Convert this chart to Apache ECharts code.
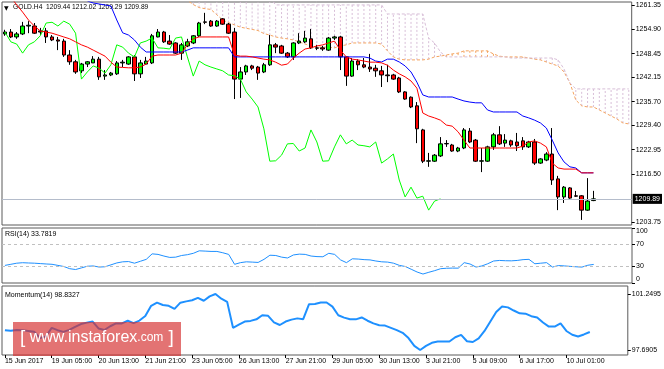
<!DOCTYPE html>
<html><head><meta charset="utf-8">
<script src="https://cdn.jsdelivr.net/npm/echarts@6/dist/echarts.min.js"></script>
<style>html,body{margin:0;padding:0;background:#fff}#c{width:664px;height:369px}</style>
</head><body><div id="c"></div>
<script>
// ---------- data ----------
const N_CATS = 107; // 101 bars + 6 future slots (cloud shifted forward)
const categories = Array.from({length: N_CATS}, (_, i) => String(i));
const tickEvery = 8;
const tickLabels = ['15 Jun 2017','19 Jun 05:00','20 Jun 13:00','21 Jun 21:00','23 Jun 05:00','26 Jun 13:00',
  '27 Jun 21:00','29 Jun 05:00','30 Jun 13:00','3 Jul 21:00','5 Jul 09:00','6 Jul 17:00','10 Jul 01:00'];

const open = [1253.7,1254.2,1252.9,1253.7,1255.8,1255.8,1254.5,1254.5,1252.9,1252.1,
 1251.8,1248.1,1246.3,1243.9,1245.7,1246.0,1247.0,1242.5,1242.8,1243.1,
 1246.0,1245.7,1247.6,1243.1,1245.7,1246.0,1252.9,1254.2,1251.8,1251.3,
 1248.6,1250.5,1251.3,1253.2,1256.9,1257.1,1255.8,1257.7,1256.3,1254.2,
 1241.7,1243.6,1245.2,1244.9,1243.6,1245.5,1250.8,1250.5,1248.6,1247.6,
 1251.3,1251.6,1252.4,1250.0,1250.0,1249.4,1252.6,1252.9,1247.6,1242.5,
 1246.5,1245.5,1244.9,1244.6,1243.9,1242.8,1242.8,1242.0,1238.3,1236.9,
 1234.6,1228.2,1219.9,1219.9,1221.3,1224.5,1224.2,1222.6,1223.4,1227.9,
 1225.5,1219.9,1219.9,1223.7,1226.9,1224.7,1225.3,1225.0,1225.3,1223.7,
 1225.0,1219.4,1220.2,1221.8,1215.2,1210.4,1212.8,1210.7,1210.7,1206.9,1209.44];
const high = [1254.8,1255.0,1254.2,1256.9,1257.1,1256.6,1255.3,1255.3,1253.4,1252.9,
 1252.4,1249.4,1246.8,1246.0,1246.5,1247.8,1247.6,1244.1,1243.6,1246.5,
 1246.8,1247.8,1248.1,1246.8,1247.6,1253.7,1255.0,1254.5,1253.4,1251.5,
 1251.3,1252.4,1253.4,1256.9,1259.3,1257.4,1257.4,1257.9,1256.6,1255.3,
 1244.9,1245.5,1245.5,1245.2,1246.0,1253.4,1251.3,1250.8,1248.9,1251.5,
 1253.9,1254.5,1255.0,1250.8,1250.5,1252.9,1253.2,1253.2,1247.8,1247.3,
 1247.0,1247.3,1248.4,1245.5,1245.2,1245.5,1243.1,1242.3,1238.5,1237.1,
 1235.6,1228.5,1222.1,1221.8,1226.3,1225.5,1224.5,1223.7,1228.7,1228.7,
 1225.8,1223.4,1224.0,1227.4,1229.2,1227.1,1225.6,1227.4,1226.3,1225.3,
 1225.8,1220.7,1222.3,1228.7,1216.0,1213.3,1213.0,1212.0,1210.9,1215.4,1212.02];
const low = [1253.2,1252.6,1252.4,1253.4,1253.9,1253.7,1253.4,1251.3,1251.8,1249.4,
 1247.6,1245.5,1243.1,1243.3,1244.9,1246.0,1241.5,1241.5,1242.5,1242.8,
 1244.9,1245.5,1241.2,1242.0,1245.5,1245.7,1252.8,1251.3,1250.8,1248.4,
 1246.8,1250.2,1251.0,1252.9,1256.3,1255.6,1255.6,1256.1,1253.7,1236.4,
 1236.7,1242.8,1244.1,1241.5,1243.3,1245.2,1248.6,1248.4,1247.3,1246.8,
 1251.0,1251.3,1249.7,1249.4,1249.2,1249.2,1252.1,1244.1,1239.9,1242.3,
 1244.1,1244.6,1243.6,1242.3,1239.6,1240.9,1241.5,1238.0,1236.2,1234.0,
 1224.7,1219.4,1218.4,1219.7,1221.0,1223.7,1222.4,1222.3,1223.1,1224.7,
 1219.7,1217.0,1219.7,1222.9,1224.2,1223.7,1223.7,1222.6,1222.9,1223.4,
 1218.9,1219.2,1219.9,1213.6,1206.9,1208.8,1209.9,1210.4,1204.3,1206.7,1209.29];
const close = [1254.2,1252.9,1253.7,1255.8,1256.0,1253.9,1254.2,1252.9,1252.1,1251.8,
 1248.1,1246.3,1243.6,1245.7,1246.3,1247.0,1242.3,1242.8,1243.3,1246.0,
 1246.2,1247.6,1243.1,1246.0,1246.5,1253.2,1254.2,1251.6,1251.0,1248.6,
 1250.8,1251.6,1253.2,1256.6,1256.8,1255.8,1257.1,1256.3,1253.9,1241.7,
 1243.6,1245.2,1244.6,1243.3,1245.5,1250.8,1250.2,1248.6,1247.6,1251.3,
 1251.8,1252.6,1250.0,1249.9,1249.7,1252.6,1252.9,1247.6,1242.5,1246.5,
 1245.5,1244.9,1244.4,1243.9,1242.8,1242.6,1241.7,1238.3,1236.4,1234.3,
 1228.5,1219.9,1220.0,1221.5,1224.5,1224.6,1222.6,1223.4,1228.2,1225.0,
 1219.9,1220.0,1223.7,1226.9,1224.5,1225.5,1224.2,1224.0,1223.7,1225.0,
 1219.4,1220.5,1221.8,1214.9,1210.4,1213.0,1210.1,1210.6,1206.9,1209.3,1209.89];

// Ichimoku lines
const tenkan = [1265.4,1263.5,1261.4,1259.5,1257.4,1255.8,1254.5,1254.2,1253.9,1253.4,
 1252.9,1252.4,1251.6,1250.8,1250.2,1249.4,1248.6,1247.8,1246.2,1244.9,
 1244.8,1244.7,1244.7,1244.9,1245.7,1247.8,1248.1,1248.1,1248.1,1248.1,
 1248.6,1250.8,1252.4,1252.9,1252.9,1252.9,1252.9,1252.9,1252.9,1248.1,
 1247.8,1247.8,1247.6,1247.3,1247.0,1246.8,1246.2,1245.4,1245.7,1247.3,
 1248.6,1249.7,1250.0,1250.5,1250.8,1251.3,1251.8,1249.4,1247.6,1247.0,
 1246.8,1246.5,1246.2,1246.2,1246.0,1245.4,1244.1,1243.1,1242.3,1241.2,
 1239.3,1232.7,1231.9,1231.4,1230.8,1229.5,1229.2,1227.7,1225.5,1223.4,
 1223.4,1223.4,1223.4,1223.4,1223.4,1223.4,1223.4,1223.4,1223.9,1225.0,
 1225.3,1224.7,1223.7,1219.4,1218.1,1217.8,1217.8,1217.8,1216.8,1216.8,1216.8];
const kijun = [1265.4,1265.4,1265.4,1265.4,1265.4,1265.4,1265.4,1265.4,1265.4,1265.4,
 1265.4,1265.4,1265.4,1265.4,1262.45,1261.92,1261.65,1261.39,1261.12,1257.4,
 1254.0,1253.4,1252.1,1250.2,1248.9,1248.9,1248.9,1248.9,1248.9,1248.9,
 1248.9,1249.4,1250.0,1250.0,1250.0,1250.0,1250.0,1250.0,1250.0,1247.6,
 1247.6,1247.6,1247.6,1247.6,1247.6,1247.6,1247.6,1247.6,1247.6,1247.6,
 1247.6,1247.6,1247.6,1247.6,1247.6,1247.6,1247.6,1247.6,1247.6,1247.6,
 1247.6,1247.6,1247.3,1246.5,1246.25,1247.0,1247.0,1246.25,1245.2,1243.6,
 1240.9,1237.5,1236.95,1236.95,1236.95,1236.95,1236.95,1236.4,1235.9,1235.6,
 1235.4,1235.4,1233.5,1232.97,1232.97,1232.97,1232.97,1232.97,1231.9,1231.4,
 1230.8,1230.05,1228.7,1225.5,1222.1,1219.7,1218.4,1218.1,1216.8,1216.8,1216.8];
const chikou = [1254.2,1251.6,1251.0,1248.6,1250.8,1251.6,1253.2,1256.6,1256.8,1255.8,
 1257.1,1256.3,1253.9,1241.7,1243.6,1245.2,1244.6,1243.3,1245.5,1250.8,
 1250.2,1248.6,1247.6,1251.3,1251.8,1252.6,1250.0,1249.9,1249.7,1252.6,
 1252.9,1247.6,1242.5,1246.5,1245.5,1244.9,1244.4,1243.9,1242.8,1242.6,
 1241.7,1238.3,1236.4,1234.3,1228.5,1219.9,1220.0,1221.5,1224.5,1224.6,
 1222.6,1223.4,1228.2,1225.0,1219.9,1220.0,1223.7,1226.9,1224.5,1225.5,
 1224.2,1224.0,1223.7,1225.0,1219.4,1220.5,1221.8,1214.9,1210.4,1213.0,
 1210.1,1210.6,1206.9,1209.3,1209.89];
const cloudStart = 29;
const spanA = [1264.0,1263.3,1262.6,1261.5,1260.7,1260.4,1260.2,1258.8,1257.4,1256.7,
 1256.1,1255.5,1255.2,1254.9,1254.6,1253.8,1253.4,1252.9,1252.6,1252.4,
 1252.1,1251.6,1251.0,1250.5,1250.2,1250.2,1250.2,1250.0,1250.5,1250.8,
 1251.3,1251.3,1251.3,1251.3,1251.3,1251.0,1249.2,1247.6,1247.0,1246.8,
 1246.8,1246.8,1246.8,1247.0,1247.6,1247.8,1248.1,1248.4,1248.6,1249.2,
 1249.2,1249.2,1249.2,1249.2,1248.4,1247.8,1247.6,1247.6,1247.6,1247.6,
 1247.3,1247.0,1246.8,1246.25,1245.7,1245.2,1243.6,1240.7,1236.15,1234.6,
 1234.3,1234.3,1233.5,1232.7,1231.9,1231.1,1230.05,1229.8];
const spanB = [1263.5,1263.5,1263.5,1263.5,1263.5,1263.5,1263.5,1263.5,1263.5,1263.5,
 1263.5,1263.5,1263.5,1263.5,1263.5,1263.5,1263.5,1261.4,1261.4,1261.4,
 1261.4,1261.4,1261.4,1261.4,1261.4,1261.4,1261.4,1261.4,1261.4,1261.4,
 1261.4,1261.4,1261.4,1261.4,1261.4,1261.4,1259.0,1259.0,1259.0,1259.0,
 1259.0,1259.0,1259.0,1252.6,1251.3,1248.9,1247.6,1247.6,1247.6,1247.6,
 1247.6,1247.6,1247.6,1247.6,1247.6,1247.6,1247.6,1247.3,1247.3,1247.3,
 1247.3,1247.3,1247.3,1247.3,1247.3,1246.8,1244.4,1240.7,1239.1,1239.1,
 1239.1,1239.1,1239.1,1239.1,1239.1,1239.1,1239.1,1239.1];

const rsi = [32,34,36,36.9,36.4,36,35.3,34.6,34,32,
 30,26,24.5,27.5,30.5,31,29,29.5,33,36.5,
 38.5,39,36,39.5,43,53,52,49,46.5,47,
 50,51.5,54,58.5,58,57.4,57.4,55,52,34,
 37,38.5,38,37.4,43,50.5,50,47,45.5,51,
 52.5,52,49,48,47.7,54,52,42,37,44,
 43.5,42.5,42,40,38.5,38,36,32,30,25,
 20,16.3,19.5,22.5,26,26.8,27.1,27,37,34.5,
 29,31,35,40,41,40.5,40.3,41,42.5,43,
 35,36,37,29,31.7,31.1,30.2,29.5,28.9,32.3,33.7819];
const rsiLevels = [70, 30];
const momentum = [98.95,98.92,98.96,98.95,98.90,98.85,98.45,98.55,99.10,98.95,
 98.84,98.97,99.16,99.34,99.43,99.50,99.06,98.96,99.20,99.38,
 99.38,99.55,99.40,99.56,99.85,100.50,100.70,100.55,100.50,100.30,
 100.70,100.78,100.85,101.00,100.82,101.10,101.2495,100.95,100.75,99.10,
 99.30,99.50,99.54,99.64,99.90,99.86,99.45,99.28,99.50,99.62,
 99.70,99.65,100.60,100.62,100.71,100.71,100.45,99.90,99.75,99.64,
 99.64,99.76,99.55,99.38,99.26,99.24,99.10,98.95,98.78,98.45,
 97.95,97.6905,97.95,98.15,98.23,98.23,98.23,98.50,98.65,98.25,
 98.20,98.43,98.90,99.50,100.10,100.45,100.40,100.20,100.02,100.00,
 99.84,99.76,99.44,99.18,99.18,99.38,98.90,98.66,98.55,98.68,98.8327];

const priceTicks = [1261.35,1254.90,1248.45,1242.15,1235.70,1229.40,1222.95,1216.50,1203.75];
const rsiTicks = [0,30,70,100];
const momTicks = [97.6905,101.2495];
const bid = 1209.89;

// ---------- build ----------
const FONT = 'Liberation Sans, Arial, sans-serif';
const candleData = open.map((o, i) => [o, close[i], low[i], high[i]]);
const pad = (arr, start) => Array.from({length: N_CATS}, (_, i) => (i >= start && i - start < arr.length) ? arr[i - start] : null);
const spanAFull = pad(spanA, cloudStart);
const spanBFull = pad(spanB, cloudStart);
const cloudData = spanA.map((a, k) => [cloudStart + k, a, spanB[k]]);
const isTick = (idx) => idx % tickEvery === 0 && idx / tickEvery < tickLabels.length;

const gridBase = {left: 2, width: 630, show: true, borderColor: '#5a5a5a', borderWidth: 1, backgroundColor: 'transparent'};
const grids = [
  Object.assign({top: 2, height: 223}, gridBase),
  Object.assign({top: 228, height: 55}, gridBase),
  Object.assign({top: 286, height: 69}, gridBase)
];

const xAxes = [0, 1, 2].map(g => ({
  type: 'category', gridIndex: g, data: categories, boundaryGap: true,
  axisLine: {show: false}, splitLine: {show: false},
  axisTick: g === 2 ? {show: true, alignWithLabel: true, interval: isTick, length: 3, lineStyle: {color: '#000'}} : {show: false},
  axisLabel: g === 2 ? {show: true, interval: isTick, align: 'left', fontSize: 7, fontFamily: FONT, color: '#000', margin: 3,
    formatter: (v, idx) => tickLabels[Math.round(idx / tickEvery)] || ''} : {show: false}
}));

const yCommon = (ticks, fmt) => ({
  type: 'value', position: 'right', splitLine: {show: false}, axisLine: {show: false},
  axisTick: {show: true, length: 3, customValues: ticks, lineStyle: {color: '#000'}},
  axisLabel: {customValues: ticks, formatter: fmt, fontSize: 7, fontFamily: FONT, color: '#000', margin: 4}
});
const yAxes = [
  Object.assign(yCommon(priceTicks, v => v.toFixed(2)), {gridIndex: 0, min: 1202.95, max: 1262.18}),
  Object.assign(yCommon(rsiTicks, v => String(v)), {gridIndex: 1, min: 0, max: 100}),
  Object.assign(yCommon(momTicks, v => v.toFixed(4)), {gridIndex: 2, min: 97.373, max: 101.758})
];
yAxes[1].axisLabel.verticalAlignMaxLabel = 'top';
yAxes[1].axisLabel.verticalAlignMinLabel = 'bottom';

const lineS = (name, data, color, extra) => Object.assign({
  name, type: 'line', data, xAxisIndex: 0, yAxisIndex: 0, showSymbol: false, symbol: 'none',
  lineStyle: {color, width: 1}, silent: true, z: 4, connectNulls: false, animation: false
}, extra || {});

const option = {
  animation: false,
  backgroundColor: '#fff',
  grid: grids,
  xAxis: xAxes,
  yAxis: yAxes,
  series: [
    {
      type: 'custom', name: 'cloud', xAxisIndex: 0, yAxisIndex: 0, clip: true, silent: true, z: 1,
      data: cloudData, encode: {x: 0, y: [1, 2]},
      renderItem: (params, api) => {
        const i = api.value(0), a = api.value(1), b = api.value(2);
        const p1 = api.coord([i, a]), p2 = api.coord([i, b]);
        return {type: 'line', shape: {x1: p1[0], y1: p1[1], x2: p2[0], y2: p2[1]},
          style: {stroke: b >= a ? '#D8BFD8' : '#F4A460', lineWidth: 1, lineDash: [2, 2]}};
      }
    },
    lineS('Senkou A', spanAFull, '#F4A460', {lineStyle: {color: '#F4A460', width: 1, type: [3, 2]}, z: 2}),
    lineS('Senkou B', spanBFull, '#D8BFD8', {lineStyle: {color: '#D8BFD8', width: 1, type: [3, 2]}, z: 2}),
    {
      type: 'candlestick', name: 'GOLD.H4', xAxisIndex: 0, yAxisIndex: 0, data: candleData, barWidth: 4, z: 3,
      itemStyle: {color: '#00FF00', color0: '#FF0000', borderColor: '#000', borderColor0: '#000', borderWidth: 1},
      markLine: {
        silent: true, symbol: 'none', animation: false,
        lineStyle: {color: '#B4BCCB', type: 'solid', width: 1},
        label: {show: true, position: 'end', formatter: bid.toFixed(2), backgroundColor: '#000', color: '#fff',
          fontSize: 7, fontFamily: FONT, padding: [2, 2, 1, 2], distance: 1},
        data: [{yAxis: bid}]
      }
    },
    lineS('Chikou', chikou, '#00FF00'),
    lineS('Kijun', kijun, '#0000FF'),
    lineS('Tenkan', tenkan, '#FF0000'),
    {
      type: 'line', name: 'RSI', xAxisIndex: 1, yAxisIndex: 1, data: rsi, showSymbol: false, symbol: 'none',
      lineStyle: {color: '#1E90FF', width: 1}, silent: true,
      markLine: {silent: true, symbol: 'none', animation: false, label: {show: false},
        lineStyle: {color: '#C0C0C0', type: [3, 3], width: 1},
        data: rsiLevels.map(v => ({yAxis: v}))}
    },
    {
      type: 'line', name: 'Momentum', xAxisIndex: 2, yAxisIndex: 2, data: momentum, showSymbol: false, symbol: 'none',
      lineStyle: {color: '#1E90FF', width: 2}, silent: true
    }
  ],
  graphic: [
    {type: 'text', left: 4, top: 5, style: {text: '▼', fontSize: 6, fill: '#000', fontFamily: 'DejaVu Sans'}},
    {type: 'text', left: 13, top: 4, style: {text: 'GOLD.H4  1209.44 1212.02 1209.29 1209.89', fontSize: 6.7, fill: '#000', fontFamily: FONT}},
    {type: 'text', left: 5, top: 231, style: {text: 'RSI(14) 33.7819', fontSize: 7, fill: '#000', fontFamily: FONT}},
    {type: 'text', left: 5, top: 292, style: {text: 'Momentum(14) 98.8327', fontSize: 7, fill: '#000', fontFamily: FONT}},
    {type: 'rect', left: 13, top: 322, shape: {width: 168, height: 34}, style: {fill: 'rgba(214,48,48,0.68)'}, z: 100},
    {type: 'text', left: 20, top: 328, z: 101, style: {
      text: '{b|[}{w| www.instaforex}{c|.com}{b| ]}', fill: '#fff', fontFamily: FONT,
      rich: {b: {fontSize: 19, fill: '#fff', fontFamily: FONT, fontWeight: 'lighter'},
             w: {fontSize: 16, fill: '#fff', fontFamily: FONT},
             c: {fontSize: 12, fill: '#fff', fontFamily: FONT}}}}
  ]
};
const chart = echarts.init(document.getElementById('c'), null, {renderer: 'canvas'});
chart.setOption(option);
</script></body></html>
